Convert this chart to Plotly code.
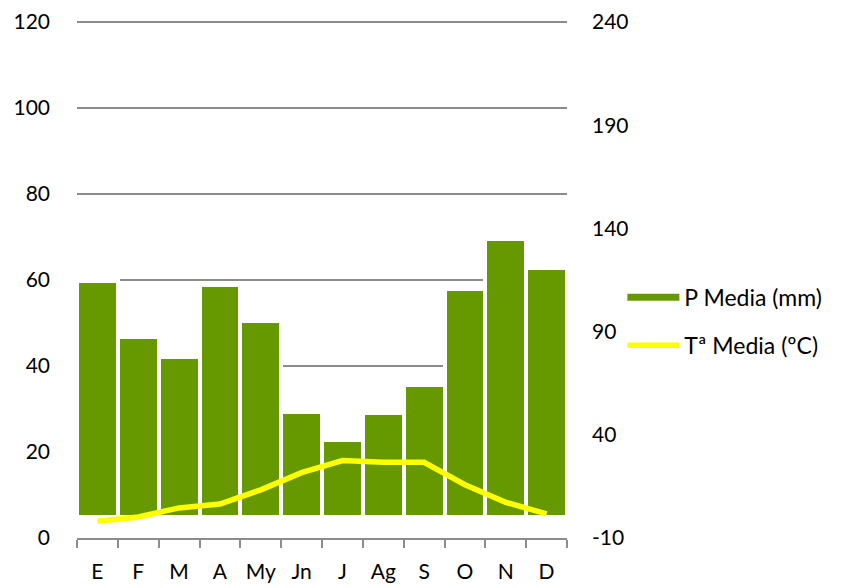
import plotly.graph_objects as go

months = ["E", "F", "M", "A", "My", "Jn", "J", "Ag", "S", "O", "N", "D"]
precip_mm = [114.5, 87.5, 77.5, 112.5, 95, 51, 37.5, 50.5, 64, 110.5, 135, 121]
temp_c = [3.9, 4.9, 7.0, 7.9, 11.2, 15.2, 18.0, 17.6, 17.6, 12.4, 8.3, 5.6]

left_ticks = [0, 20, 40, 60, 80, 100, 120]
right_ticks = [-10, 40, 90, 140, 190, 240]
right_tick_labels = [str(v) for v in right_ticks]

GREEN = "#669900"
YELLOW = "#FFFF00"
GRID = "#8c8c8c"
FONT = "Lato"

fig = go.Figure()

fig.add_trace(go.Bar(
    x=months, y=precip_mm, name="P Media (mm)",
    marker=dict(color=GREEN, line=dict(color="white", width=4)),
    yaxis="y", showlegend=False, legendgroup="p",
))
fig.add_trace(go.Scatter(
    x=[None], y=[None], name="P Media (mm)", mode="lines",
    line=dict(color=GREEN, width=7), yaxis="y", legendgroup="p",
))
fig.add_trace(go.Scatter(
    x=months, y=temp_c, name="Tª Media (ºC)", mode="lines",
    line=dict(color=YELLOW, width=5.5), yaxis="y2", legendgroup="t",
))

fig.update_layout(
    width=833, height=580,
    margin=dict(l=69, r=274, t=13, b=50, autoexpand=False),
    plot_bgcolor="white", paper_bgcolor="white",
    font=dict(family=FONT, size=21, color="#000000"),
    bargap=0,
    xaxis=dict(
        type="category", showgrid=False, showline=True, automargin=False,
        linecolor=GRID, linewidth=2, ticks="outside", tickson="boundaries",
        ticklen=8, tickcolor=GRID, tickwidth=2, range=[-0.5, 11.5],
        tickfont=dict(size=21), ticklabelstandoff=14,
    ),
    yaxis=dict(
        side="right", range=[-10, 240.5], tickvals=right_ticks,
        ticktext=right_tick_labels, automargin=False,
        showgrid=False, zeroline=False, showline=False,
        ticklabelstandoff=24,
    ),
    yaxis2=dict(
        overlaying="y", side="left", range=[0, 120.24], tickvals=left_ticks,
        automargin=False,
        showgrid=True, gridcolor=GRID, gridwidth=1.5, zeroline=False,
        showline=False, ticklabelstandoff=26,
    ),
    legend=dict(
        x=1.113, y=0.419, xanchor="left", yanchor="middle",
        itemwidth=52, tracegroupgap=15, font=dict(size=23),
        bgcolor="rgba(0,0,0,0)",
    ),
)

fig.write_html("out.html")
